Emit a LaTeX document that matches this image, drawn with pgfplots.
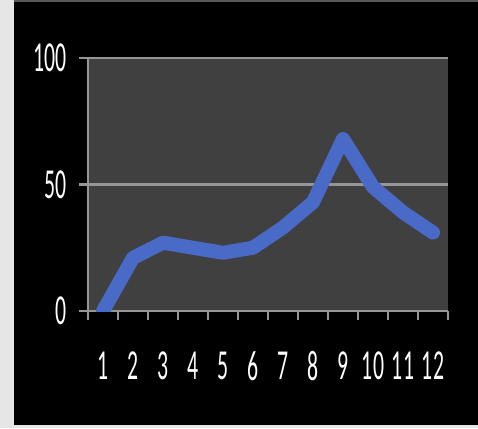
\documentclass[border=0pt]{standalone}
\usepackage{pgfplots}
\pgfplotsset{compat=1.18}
\usepackage{fontspec}
\setmainfont{Carlito}
\definecolor{outerbg}{RGB}{230,230,230}
\definecolor{plotbg}{RGB}{64,64,64}
\definecolor{gridc}{RGB}{150,150,150}
\definecolor{lineblue}{RGB}{74,106,200}
\newcommand{\TL}[1]{\scalebox{0.84}[1.65]{#1}}
\begin{document}
\begin{tikzpicture}[x=1bp,y=1bp]
\useasboundingbox (0,0) rectangle (478,428);
\fill[outerbg] (0,0) rectangle (478,428);
\fill[black] (14,3) rectangle (478,426);
\fill[gray!70!black] (14,426) rectangle (478,428);
\begin{axis}[
  at={(88bp,117bp)}, anchor=south west,
  scale only axis, width=360bp, height=253bp,
  xmin=0.5, xmax=12.5, ymin=0, ymax=100,
  axis background/.style={fill=plotbg},
  axis lines=left,
  axis line style={-, gridc, line width=2.5bp},
  xtick={0.5,1.5,...,12.5},
  x tick label as interval,
  xticklabels={\TL{1},\TL{2},\TL{3},\TL{4},\TL{5},\TL{6},\TL{7},\TL{8},\TL{9},\TL{10},\TL{11},\TL{12}},
  tick align=outside,
  major tick length=9bp,
  x tick style={gridc, line width=1.8bp},
  xticklabel style={anchor=center, yshift=-46bp, inner sep=0pt, text=white, font=\fontsize{26}{26}\selectfont},
  ytick={0,50,100},
  yticklabels={\TL{0},\TL{50},\TL{100}},
  y tick style={gridc, line width=2.5bp},
  yticklabel style={anchor=east, inner sep=0pt, xshift=-12bp, text=white, font=\fontsize{26}{26}\selectfont},
  ymajorgrids,
  major grid style={gridc, line width=2.5bp},
  clip=true,
]
\addplot[lineblue, line width=14bp, line join=round, line cap=round] coordinates {
 (1,0) (2,21) (3,27) (4,25) (5,23) (6,25) (7,33) (8,43) (9,68) (10,49) (11,39) (12,31)
};
\end{axis}
\end{tikzpicture}
\end{document}
